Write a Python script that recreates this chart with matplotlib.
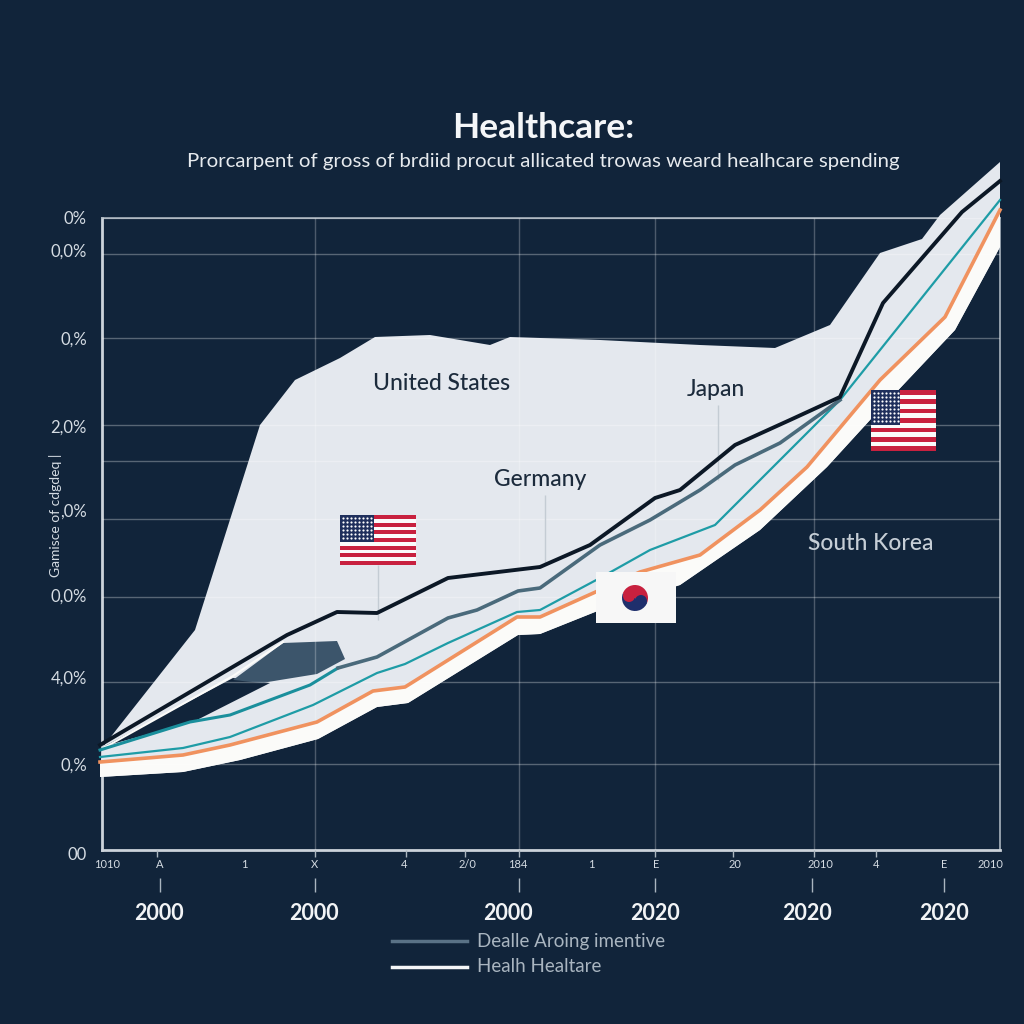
# health_spend.py - share of GDP going to healthcare, dark poster style
import numpy as np
import matplotlib
matplotlib.use('Agg')
import matplotlib.pyplot as plt
from matplotlib.patches import Rectangle, Wedge, Circle

plt.rcParams['font.family'] = ['Lato', 'DejaVu Sans']

# Values, in the chart's own axis units
area_x = [102, 195, 260, 295, 340, 375, 430, 490, 510, 600, 700, 775, 830, 880, 922, 940, 1000]
area_top = [748, 630, 425, 380, 358, 337, 335, 345, 337, 340, 345, 348, 325, 253, 239, 215, 162]

white_x = [100, 183, 240, 318, 377, 408, 518, 540, 600, 680, 760, 827, 870, 955, 1000]
white_low = [777, 772, 760, 739, 707, 703, 635, 634, 610, 585, 530, 467, 420, 330, 247]

black_x = [100, 287, 337, 377, 448, 540, 590, 655, 680, 735, 790, 840, 883, 962, 1000]
black_y = [745, 635, 612, 613, 578, 567, 545, 498, 490, 445, 420, 397, 303, 212, 181]

teal_thick_x = [100, 190, 230, 310, 338]
teal_thick_y = [750, 722, 715, 685, 668]

slate_x = [338, 377, 448, 477, 518, 540, 600, 650, 700, 735, 780, 840]
slate_y = [668, 657, 618, 610, 591, 588, 545, 520, 490, 465, 443, 400]

teal_x = [100, 183, 230, 313, 377, 405, 448, 517, 540, 600, 650, 715, 760, 840, 1000]
teal_y = [757, 748, 737, 705, 673, 664, 643, 612, 610, 578, 550, 525, 480, 400, 200]

orange_x = [100, 183, 230, 317, 373, 405, 517, 540, 600, 640, 700, 760, 807, 880, 945, 1000]
orange_y = [762, 755, 745, 722, 691, 687, 617, 617, 590, 572, 555, 510, 467, 380, 317, 210]

grid_y = [218, 254, 338, 425, 461, 519, 597, 682, 764]
grid_x = [315, 519, 655, 814]

y_label_pos = [219, 252, 340, 428, 512, 597, 679, 766, 855]
y_labels = ['0%', '0,0%', '0,%', '2,0%', ',0%', '0,0%', '4,0%', '0,%', '00']

minor_pos = [107, 160, 244, 315, 404, 467, 518, 591, 656, 735, 820, 876, 944, 990]
minor_labels = ['1010', 'A', '1', 'X', '4', '2/0', '184', '1', 'E', '20', '2010', '4', 'E', '2010']
minor_ticks = [157, 315, 406, 465, 519, 655, 733, 814, 876]

year_pos = [159, 314, 508, 655, 807, 944]
year_labels = ['2000', '2000', '2000', '2020', '2020', '2020']
year_ticks = [160, 315, 519, 655, 812, 944]

bg = '#11243a'
txt = '#d5dce3'

fig = plt.figure(figsize=(10.24, 10.24), dpi=100, facecolor=bg)
ax = fig.add_axes([102/1024, 1-850/1024, 898/1024, 632/1024], facecolor=bg)
ax.set_xlim(102, 1000)
ax.set_ylim(850, 218)
ax.set_xticks([])
ax.set_yticks([])
for s in ax.spines.values():
    s.set_color('#aab5bf')
    s.set_linewidth(1.2)
    s.set_zorder(1)
ax.spines['left'].set_color('#ccd3da')
ax.spines['left'].set_linewidth(2)
ax.spines['bottom'].set_color('#ccd3da')
ax.spines['bottom'].set_linewidth(2)

# light band and white band under the lines
ax.fill(area_x + white_x[::-1], area_top + white_low[::-1], color='#e4e8ee', lw=0, zorder=2, clip_on=False)
ax.fill(orange_x + white_x[::-1], orange_y + white_low[::-1], color='#fbfbf9', lw=0, zorder=2.1, clip_on=False)

# dark wedge under the black line
ax.fill([105, 233, 270, 193], [746, 678, 683, 722], color=bg, lw=0, zorder=2.2)
ax.fill([233, 283, 337, 345, 317, 280, 262], [680, 643, 641, 659, 674, 680, 683], color='#3c556b', lw=0, zorder=2.2)
ax.plot([102, 233, 283], [749, 676, 642], color='#fbfbf9', lw=1.5, zorder=2.3)

ax.hlines(grid_y, 102, 1000, color='#ffffff', alpha=0.3, lw=1, zorder=2.5)
ax.vlines(grid_x, 218, 850, color='#ffffff', alpha=0.25, lw=1, zorder=2.5)

# leader lines
ax.vlines([545, 718, 378], [495, 405, 565], [565, 480, 620], color='#c4ccd4', lw=1, zorder=2.6)

ax.plot(orange_x, orange_y, color='#f0925f', lw=2.6, zorder=3, clip_on=False)
ax.plot(teal_x, teal_y, color='#1e9ca6', lw=1.6, zorder=3.1, clip_on=False)
ax.plot(teal_thick_x, teal_thick_y, color='#1a8f9c', lw=2.2, zorder=3.2, clip_on=False)
ax.plot(slate_x, slate_y, color='#4a6a7b', lw=2.6, zorder=3.2)
ax.plot(black_x, black_y, color='#0c1826', lw=2.8, zorder=3.3, clip_on=False)


def us_flag(x0, y0, x1, y1, canton_w, canton_h):
    n = 13
    h = (y1 - y0) / n
    for i in range(n):
        c = '#c8213f' if i % 2 == 0 else '#fbfbfb'
        ax.add_patch(Rectangle((x0, y0 + i*h), x1-x0, h, color=c, lw=0, zorder=4))
    ax.add_patch(Rectangle((x0, y0), canton_w, canton_h, color='#1f2f5c', lw=0, zorder=4.1))
    sx, sy = np.meshgrid(np.arange(x0+3, x0+canton_w-1, 4), np.arange(y0+3, y0+canton_h-1, 4))
    ax.scatter(sx.ravel(), sy.ravel(), s=2.5, color='white', lw=0, zorder=4.2)


us_flag(340, 515, 416, 565, 34, 27)
us_flag(871, 390, 936, 451, 29, 35)

# Korean flag
ax.add_patch(Rectangle((596, 572), 80, 51, color='#f7f7f7', lw=0, zorder=4))
ax.add_patch(Wedge((635, 598), 13, 200, 20, color='#c8213f', lw=0, zorder=4.1))
ax.add_patch(Wedge((635, 598), 13, 20, 200, color='#1f2f6c', lw=0, zorder=4.1))
ax.add_patch(Circle((629, 596), 6, color='#c8213f', lw=0, zorder=4.2))
ax.add_patch(Circle((641, 601), 6, color='#1f2f6c', lw=0, zorder=4.2))

# country names
for name, x, y, c in [('United States', 442, 383, '#1c2b3c'), ('Japan', 716, 389, '#1c2b3c'),
                      ('Germany', 540, 480, '#1c2b3c'), ('South Korea', 871, 543, '#c6ced6')]:
    ax.text(x, y, name, ha='center', va='center', fontsize=16.5, color=c, zorder=5, weight='medium')

# axis text
for y, lab in zip(y_label_pos, y_labels):
    ax.text(87, y, lab, ha='right', va='center', fontsize=12, color=txt, clip_on=False)
ax.text(56, 515, 'Gamisce of cdgdeq |', rotation=90, ha='center', va='center', fontsize=10, color=txt)

for x, lab in zip(minor_pos, minor_labels):
    ax.text(x, 865, lab, ha='center', va='center', fontsize=8, color=txt)
ax.vlines(minor_ticks, 850, 857, color='#aab5bf', lw=1, clip_on=False)
ax.vlines(year_ticks, 878, 892, color='#aab5bf', lw=1, clip_on=False)
for x, lab in zip(year_pos, year_labels):
    ax.text(x, 913, lab, ha='center', va='center', fontsize=15.5, color='#f2f4f6', weight='bold')

# title
ax.text(543, 128, 'Healthcare:', ha='center', va='center', fontsize=25.5, color='#f4f6f8', weight='bold')
ax.text(543, 161, 'Prorcarpent of gross of brdiid procut allicated trowas weard healhcare spending',
        ha='center', va='center', fontsize=14.7, color='#e6eaee')

# legend
ax.plot([392, 467], [941, 941], color='#5a7286', lw=2.5, clip_on=False)
ax.plot([392, 467], [967, 967], color='#f4f6f8', lw=2.5, clip_on=False)
ax.text(477, 942, 'Dealle Aroing imentive', ha='left', va='center', fontsize=13.5, color='#a9b5c0')
ax.text(477, 966, 'Healh Healtare', ha='left', va='center', fontsize=13.5, color='#a9b5c0')

fig.savefig('out.png', dpi=100, facecolor=bg)
